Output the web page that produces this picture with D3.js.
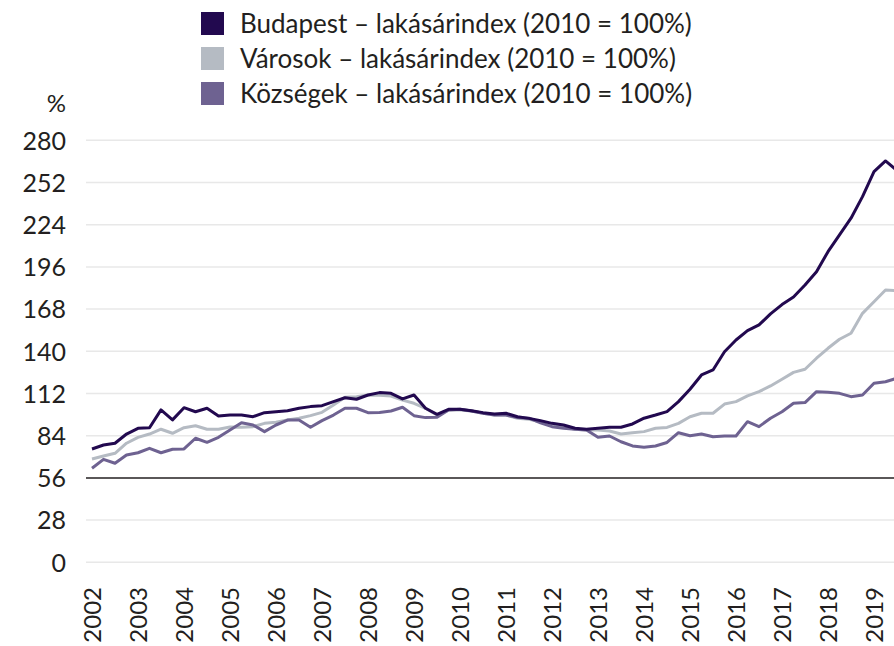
<!DOCTYPE html>
<html>
    <head>
        <meta charset="utf-8">
        <title>Lakásárindex</title>
        <script src="https://d3js.org/d3.v7.min.js"></script>
    </head>
    <style>
        body { margin: 0; background: #fff; }
        text { font-family: Lato, sans-serif; fill: #231f20; }
    </style>
    <body>
        <div class="graph"></div>
        <script>
            // quarterly data, 2002 Q1 onwards
            const startYear = 2002;
            const years = [2002, 2003, 2004, 2005, 2006, 2007, 2008, 2009, 2010,
                2011, 2012, 2013, 2014, 2015, 2016, 2017, 2018, 2019];
            const yTicks = [0, 28, 56, 84, 112, 140, 168, 196, 224, 252, 280];

            const budapest = [
                75.2, 77.8, 79.0, 85.1, 88.9, 89.3, 101.1, 94.5, 102.6, 99.9, 102.2, 97.1,
                97.8, 97.7, 96.6, 99.3, 99.9, 100.6, 102.2, 103.3, 103.9, 106.6, 109.2, 108.2,
                111.0, 112.6, 112.1, 108.4, 111.0, 102.2, 98.2, 101.5, 101.5, 100.6, 99.3, 98.4,
                98.9, 96.6, 95.5, 94.0, 92.2, 91.1, 88.9, 88.3, 88.9, 89.6, 89.6, 91.8,
                95.6, 97.7, 100.0, 106.6, 114.8, 124.3, 127.6, 139.7, 147.5, 153.7, 157.5, 164.8,
                171.0, 176.0, 184.0, 192.8, 206.1, 217.2, 228.3, 242.6, 259.2, 266.3, 260.0
            ];
            const varosok = [
                68.5, 70.5, 72.3, 79.0, 82.9, 85.1, 88.3, 85.6, 89.3, 90.6, 88.3, 88.3,
                89.8, 89.6, 90.0, 92.2, 92.9, 94.4, 95.6, 97.3, 99.5, 104.4, 109.5, 109.9,
                111.0, 110.8, 110.3, 107.6, 105.5, 102.2, 97.7, 101.0, 101.0, 100.4, 98.9, 97.7,
                97.7, 95.5, 94.9, 93.3, 91.1, 90.0, 88.3, 87.8, 87.8, 87.1, 85.1, 86.0,
                86.7, 88.9, 89.5, 92.2, 96.6, 98.9, 98.9, 105.0, 106.6, 110.4, 113.2, 117.0,
                121.5, 126.0, 128.1, 135.4, 142.0, 148.0, 152.0, 165.2, 172.9, 180.7, 180.2
            ];
            const kozsegek = [
                62.4, 68.3, 65.7, 71.2, 72.7, 75.6, 72.7, 75.0, 75.2, 82.3, 79.6, 82.9,
                87.8, 92.6, 91.1, 86.7, 91.1, 94.4, 94.4, 89.6, 94.0, 97.7, 102.2, 102.2,
                99.3, 99.4, 100.4, 102.9, 97.3, 96.0, 96.2, 101.1, 101.5, 100.4, 98.9, 97.7,
                97.7, 96.0, 95.6, 92.6, 90.0, 88.9, 88.3, 87.8, 82.9, 83.8, 80.0, 77.2,
                76.3, 77.2, 79.5, 86.0, 84.0, 85.1, 83.3, 83.8, 83.8, 93.3, 90.0, 95.6,
                99.9, 105.5, 106.0, 113.2, 112.8, 112.1, 109.9, 111.0, 118.8, 119.8, 122.1
            ];

            const seriesNames = [
                'Budapest – lakásárindex (2010 = 100%)',
                'Városok – lakásárindex (2010 = 100%)',
                'Községek – lakásárindex (2010 = 100%)'
            ];
            const colours = ['#22094f', '#b5bbc3', '#6e6291'];
            const series = [budapest, varosok, kozsegek];

            const width = 894;
            const height = 646;

            const x = d3.scaleLinear()
                .domain([2002, 2019.5])
                .range([92, 897]);

            const y = d3.scaleLinear()
                .domain([0, 280])
                .range([562.3, 140.3]);

            const chart = d3.select('.graph')
                .append('svg')
                .attr('width', width)
                .attr('height', height);

            // gridlines, 56 drawn as the dark base line
            chart.append('g')
                .selectAll('line')
                .data(yTicks)
                .enter()
                .append('line')
                .attr('x1', 86)
                .attr('x2', width)
                .attr('y1', d => y(d))
                .attr('y2', d => y(d))
                .attr('stroke', d => d === 56 ? '#231f20' : '#e8e8e8')
                .attr('stroke-width', 1.5);

            // y axis labels
            const yAxis = d3.axisLeft(y)
                .tickValues(yTicks)
                .tickSize(0)
                .tickPadding(0);

            chart.append('g')
                .attr('class', 'y-axis')
                .attr('transform', 'translate(66, 0)')
                .call(yAxis)
                .call(g => g.select('.domain').remove())
                .selectAll('text')
                .style('font-size', '25px')
                .attr('dy', '0.35em');

            chart.append('text')
                .attr('x', 66)
                .attr('y', y(280) - 37)
                .attr('text-anchor', 'end')
                .style('font-size', '24px')
                .attr('dy', '0.35em')
                .text('%');

            // x axis labels
            const xAxis = d3.axisBottom(x)
                .tickValues(years)
                .tickFormat(d3.format('d'))
                .tickSize(0)
                .tickPadding(0);

            chart.append('g')
                .attr('class', 'x-axis')
                .attr('transform', 'translate(0, 587)')
                .call(xAxis)
                .call(g => g.select('.domain').remove())
                .selectAll('text')
                .style('font-size', '24px')
                .attr('text-anchor', 'end')
                .attr('transform', 'rotate(-90)')
                .attr('x', 0)
                .attr('y', 0)
                .attr('dy', '0.35em');

            // lines, drawn light to dark
            const line = d3.line()
                .x((d, i) => x(startYear + i / 4))
                .y(d => y(d));

            [1, 2, 0].forEach(k => {
                chart.append('path')
                    .datum(series[k])
                    .attr('d', line)
                    .attr('fill', 'none')
                    .attr('stroke', colours[k])
                    .attr('stroke-width', 3)
                    .attr('stroke-linejoin', 'round');
            });

            // legend
            const legend = chart.append('g')
                .attr('transform', 'translate(201, 12)');

            const items = legend.selectAll('g')
                .data(seriesNames)
                .enter()
                .append('g')
                .attr('transform', (d, i) => `translate(0, ${i * 35})`);

            items.append('rect')
                .attr('width', 23)
                .attr('height', 23)
                .attr('fill', (d, i) => colours[i]);

            items.append('text')
                .attr('x', 39)
                .attr('y', 12)
                .attr('dy', '0.35em')
                .style('font-size', '26px')
                .text(d => d);
        </script>
    </body>
</html>
